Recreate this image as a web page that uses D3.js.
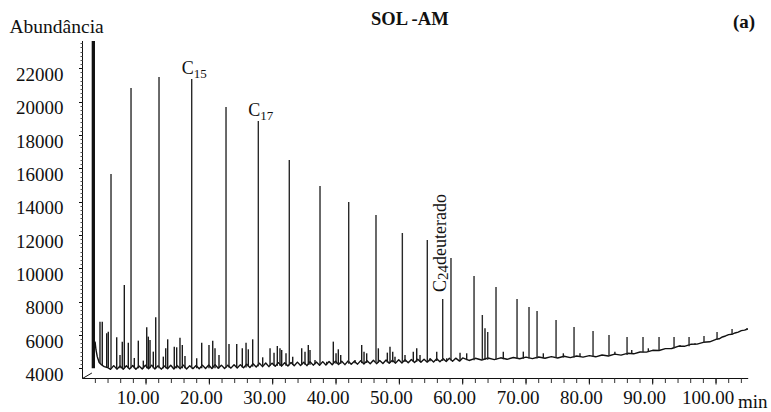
<!DOCTYPE html>
<html><head><meta charset="utf-8">
<script src="https://cdn.jsdelivr.net/npm/d3@7"></script>
<style>
body{margin:0;background:#fff}
svg{display:block}
text{font-family:"Liberation Serif","Times New Roman",serif;fill:#111}
</style>
</head><body><svg id="c" width="771" height="412"></svg>
<script>
// ---------- data ----------
const title = "SOL -AM";
const panelTag = "(a)";
const yAxisTitle = "Abundância";
const xAxisUnit = "min";
const xMajorTicks = [10,20,30,40,50,60,70,80,90,100];
const xMinorTicks = d3.range(2,105,2);
const yMajorTicks = [4000,6000,8000,10000,12000,14000,16000,18000,20000,22000];
const yMinorTicks = d3.range(4000,23640,250);

// solvent peak (off scale) [time, top, base]
const solventPeak = [[1.68,23640,4000]];
// baseline trace [time, abundance]
const baseline = [[1.95,5600],[2.1,5100],[2.3,4700],[2.6,4350],[3.0,4200],[3.4,4100],[3.9,4050],[4.4,3940],[4.9,4160],[5.4,3950],[5.9,4140],[6.4,3940],[6.9,4150],[7.4,3960],[7.9,4170],[8.4,3940],[8.9,4140],[9.4,3960],[9.9,4180],[10.4,3970],[10.9,4190],[11.4,3960],[11.9,4150],[12.4,3950],[12.9,4140],[13.4,3970],[13.9,4180],[14.4,3960],[14.9,4170],[15.4,3980],[15.9,4190],[16.4,3960],[16.9,4150],[17.4,3980],[17.9,4170],[18.4,3970],[18.9,4190],[19.4,3990],[19.9,4200],[20.4,3990],[20.9,4220],[21.4,4000],[21.9,4190],[22.4,3990],[22.9,4180],[23.4,4010],[23.9,4210],[24.4,4020],[24.9,4220],[25.4,4030],[25.9,4250],[26.4,4050],[26.9,4270],[27.4,4080],[27.9,4300],[28.4,4100],[28.9,4320],[29.4,4100],[29.9,4310],[30.4,4120],[30.9,4340],[31.4,4130],[31.9,4330],[32.4,4140],[32.9,4350],[33.4,4150],[33.9,4370],[34.4,4170],[34.9,4360],[35.4,4160],[35.9,4390],[36.4,4190],[36.9,4380],[37.4,4180],[37.9,4400],[38.4,4200],[38.9,4410],[39.4,4210],[39.9,4430],[40.4,4230],[40.9,4420],[41.4,4220],[41.9,4440],[42.4,4240],[42.9,4430],[43.4,4250],[43.9,4460],[44.4,4260],[44.9,4450],[45.4,4270],[45.9,4480],[46.4,4280],[46.9,4470],[47.4,4290],[47.9,4500],[48.4,4300],[48.9,4490],[49.4,4310],[49.9,4510],[50.4,4320],[50.9,4520],[51.4,4330],[51.9,4530],[52.4,4350],[52.9,4540],[53.4,4360],[53.9,4550],[54.4,4370],[54.9,4560],[55.4,4380],[55.9,4570],[56.4,4390],[56.9,4580],[57.4,4410],[57.9,4600],[58.4,4420],[58.9,4610],[59.5,4430],[60,4620],[61,4470],[62,4600],[63,4500],[64,4620],[65,4520],[66,4630],[67,4540],[68,4650],[69,4570],[70,4670],[71,4580],[72,4680],[73,4600],[74,4700],[75,4620],[76,4720],[77,4640],[78,4740],[79,4670],[80,4760],[81,4690],[82,4800],[83,4740],[84,4850],[85,4790],[86,4900],[87,4870],[88,4980],[89,4970],[90,5080],[91,5070],[92,5180],[93,5190],[94,5320],[95,5320],[96,5440],[97,5450],[98,5560],[99,5590],[100,5740],[100.5,5770],[101,5880],[101.5,5940],[102,6020],[102.5,6040],[103,6120],[103.5,6170],[104,6260],[104.5,6290],[105,6360]];
// n-alkane / main peaks [time, top, base]
const mainPeaks = [[4.47,15660,4000],[7.63,20820,4000],[12.05,21480,4000],[17.21,21360,4000],[22.63,19680,4030],[27.73,18840,4120],[32.62,16500,4190],[37.47,14940,4230],[42.0,13980,4270],[46.31,13200,4330],[50.47,12120,4370],[54.41,11700,4420],[56.84,8160,4440],[58.15,10620,4470],[61.79,9540,4490],[63.1,7200,4520],[63.95,6180,4520],[65.26,8880,4530],[68.58,8160,4580],[70.47,7680,4590],[71.74,7440,4590],[74.74,6900,4630],[77.58,6480,4650],[80.58,6240,4700],[83.1,6000,4750],[85.95,5880,4800],[88.47,5880,4960],[91.0,5880,5080],[93.37,5880,5200],[95.74,5880,5330],[98.1,5940,5540],[100.16,6180,5720],[102.53,6360,6050],[104.9,6420,6300]];
// small peaks [time, top, base]
const minorPeaks = [[2.73,6800,4300],[3.09,6800,4200],[3.79,6100,4050],[4.04,6200,4050],[5.37,5860,4000],[5.89,4800,4000],[6.25,5600,4000],[6.57,9000,4000],[7.2,5540,4000],[8.15,4620,4000],[8.78,5660,4000],[9.57,4460,4000],[10.11,6460,4000],[10.36,5900,4000],[10.63,5700,4000],[11.15,5000,4000],[11.53,7060,4000],[12.73,4700,4000],[13.11,5200,4000],[13.42,5740,4000],[14.46,5300,4000],[14.84,5260,4000],[15.36,5840,4000],[15.73,5400,4000],[16.15,4740,4000],[18.0,4600,4000],[18.79,5540,4000],[19.94,5400,4000],[20.53,5660,4000],[20.89,5200,4000],[21.52,4800,4000],[23.1,5460,4050],[24.32,5460,4050],[25.2,5200,4050],[25.79,5540,4050],[26.15,5140,4100],[26.84,5740,4100],[28.42,4660,4150],[29.58,5200,4150],[30.21,4940,4150],[30.73,5340,4150],[31.15,5200,4150],[31.42,5100,4150],[32.1,4900,4150],[33.16,4700,4200],[34.58,5200,4220],[35.1,5000,4220],[35.62,5400,4220],[35.89,5100,4220],[36.68,4500,4240],[38.53,4400,4250],[39.57,5600,4260],[40.0,4900,4270],[40.36,5140,4280],[40.74,4800,4280],[43.0,4500,4300],[44.05,5400,4310],[44.42,5000,4310],[44.84,4900,4320],[46.68,5200,4340],[48.1,4940,4350],[48.52,5300,4350],[48.95,5000,4360],[49.31,4700,4360],[50.89,4800,4380],[52.2,5000,4400],[52.74,5200,4400],[53.26,4800,4410],[54.84,4600,4430],[55.9,5000,4440],[57.48,4600,4460],[59.58,4940,4480],[60.63,4900,4490],[63.52,6400,4520],[66.41,5000,4550],[69.57,5000,4580],[72.73,4900,4610],[75.89,4900,4650],[78.52,4900,4680],[84.03,5000,4800],[86.69,5100,4880],[89.31,5200,4980],[94.31,5400,5300],[96.68,5500,5420]];
// peak labels
const peakLabels = [{main:"C",sub:"15",t:17.21,v:21360},{main:"C",sub:"17",t:27.73,v:18840}];
const rotatedLabel = {main:"C",sub:"24",rest:"deuterado",t:56.84,v:8160};

// ---------- scales ----------
const svg = d3.select("#c");
const x = d3.scaleLinear().domain([0,105]).range([82.7,747.7]);
const y = d3.scaleLinear().domain([4000,23640]).range([368.3,41]);
const axisX = 82.5, axisY = 378.5;

// ---------- axes ----------
const ax = svg.append("g").attr("stroke","#111").attr("stroke-width",1).attr("fill","none");
ax.append("line").attr("x1",axisX).attr("x2",axisX).attr("y1",y(23640)).attr("y2",axisY);
ax.append("line").attr("x1",axisX).attr("x2",x(105)+0.5).attr("y1",axisY).attr("y2",axisY);
ax.append("line").attr("x1",axisX).attr("y1",axisY).attr("x2",x(1.45)).attr("y2",373);
ax.selectAll(".ym").data(yMinorTicks).join("line")
  .attr("x1",axisX-2).attr("x2",axisX).attr("y1",d=>Math.round(y(d))+0.5).attr("y2",d=>Math.round(y(d))+0.5).attr("stroke","#555");
ax.selectAll(".yM").data(yMajorTicks).join("line")
  .attr("x1",axisX-3.5).attr("x2",axisX).attr("y1",d=>Math.round(y(d))+0.5).attr("y2",d=>Math.round(y(d))+0.5);
ax.selectAll(".xm").data(xMinorTicks).join("line")
  .attr("x1",d=>x(d)).attr("x2",d=>x(d)).attr("y1",axisY).attr("y2",axisY+4.5).attr("stroke","#333");
ax.selectAll(".xM").data(xMajorTicks).join("line")
  .attr("x1",d=>x(d)).attr("x2",d=>x(d)).attr("y1",axisY).attr("y2",axisY+6);

svg.selectAll(".yl").data(yMajorTicks).join("text")
  .attr("x",63.5).attr("y",d=>y(d)+12.8).attr("text-anchor","end")
  .style("font-size","19px").text(d=>d);
svg.selectAll(".xl").data(xMajorTicks).join("text")
  .attr("x",d=>x(d)-8).attr("y",403.5).attr("text-anchor","middle")
  .style("font-size","19px").text(d=>d3.format(".2f")(d));
svg.append("text").attr("x",738).attr("y",407.5).style("font-size","19px").text(xAxisUnit);
svg.append("text").attr("x",9.5).attr("y",33).style("font-size","19.5px").text(yAxisTitle);
svg.append("text").attr("x",371).attr("y",25).style("font-size","18.5px").style("font-weight","bold").text(title);
svg.append("text").attr("x",733).attr("y",28).style("font-size","19px").style("font-weight","bold").text(panelTag);

// ---------- trace ----------
const line = d3.line().x(d=>x(d[0])).y(d=>y(d[1]));
svg.append("path").datum(baseline).attr("d",line)
  .attr("fill","none").attr("stroke","#111").attr("stroke-width",1.4).attr("stroke-linejoin","round");
svg.append("g").selectAll("line").data(minorPeaks).join("line")
  .attr("x1",d=>x(d[0])).attr("x2",d=>x(d[0])).attr("y1",d=>y(d[1])).attr("y2",d=>y(d[2]))
  .attr("stroke","#1a1a1a").attr("stroke-width",1.4);
svg.append("g").selectAll("line").data(mainPeaks).join("line")
  .attr("x1",d=>x(d[0])).attr("x2",d=>x(d[0])).attr("y1",d=>y(d[1])).attr("y2",d=>y(d[2]))
  .attr("stroke","#2a2a2a").attr("stroke-width",1.4);
svg.append("g").selectAll("line").data(solventPeak).join("line")
  .attr("x1",d=>x(d[0])).attr("x2",d=>x(d[0])).attr("y1",d=>y(d[1])).attr("y2",d=>y(d[2]))
  .attr("stroke","#111").attr("stroke-width",3.3);

// ---------- labels ----------
peakLabels.forEach(p=>{
  const t = svg.append("text").attr("x",x(p.t)-10).attr("y",y(p.v)-4.7);
  t.append("tspan").style("font-size","18px").text(p.main);
  t.append("tspan").attr("dy",3.4).style("font-size","13px").text(p.sub);
});
{
  const r = rotatedLabel;
  const px = x(r.t)+3.5, py = y(r.v)-7;
  const t = svg.append("text").attr("transform",`translate(${px},${py}) rotate(-90)`);
  t.append("tspan").style("font-size","18px").text(r.main);
  t.append("tspan").attr("dy",2).style("font-size","15px").text(r.sub);
  t.append("tspan").attr("dy",-2).style("font-size","18px").text(r.rest);
}
</script></body></html>
